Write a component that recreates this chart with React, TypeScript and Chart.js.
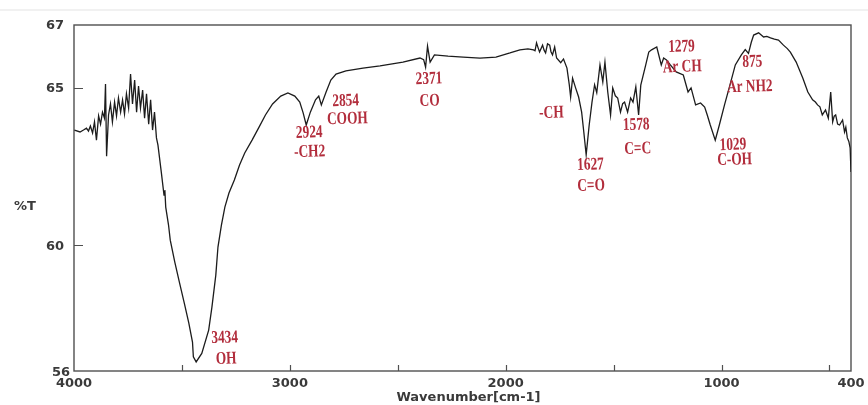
import { useEffect, useRef } from "react";
import { Chart, registerables } from "chart.js";

Chart.register(...registerables);

// FTIR spectrum: wavenumber (cm-1) and transmittance (%T)
const wavenumber = [
  3998, 3972, 3956, 3942, 3933, 3924, 3914, 3905, 3896, 3886, 3877, 3868, 3859, 3854, 3849,
  3840, 3831, 3822, 3812, 3803, 3794, 3784, 3775, 3766, 3757, 3747, 3738, 3729, 3719, 3710,
  3701, 3692, 3682, 3673, 3664, 3654, 3645, 3636, 3627, 3618, 3611, 3595, 3583, 3579, 3575,
  3562, 3554, 3533, 3511, 3489, 3468, 3451, 3447, 3434, 3408, 3376, 3361, 3343, 3333, 3317,
  3301, 3282, 3257, 3233, 3209, 3175, 3142, 3113, 3080, 3042, 3009, 2977, 2954, 2938, 2924,
  2905, 2881, 2866, 2854, 2832, 2810, 2786, 2740, 2661, 2582, 2476, 2397, 2380, 2371, 2362,
  2350, 2330, 2267, 2197, 2119, 2045, 1980, 1934, 1897, 1871, 1864, 1857, 1850, 1843, 1829,
  1822, 1815, 1806, 1796, 1790, 1783, 1773, 1764, 1745, 1732, 1716, 1705, 1699, 1690, 1676,
  1662, 1648, 1638, 1627, 1613, 1600, 1588, 1578, 1563, 1550, 1540, 1527, 1514, 1504, 1492,
  1481, 1468, 1458, 1449, 1435, 1421, 1410, 1397, 1384, 1374, 1351, 1337, 1324, 1300, 1279,
  1268, 1255, 1237, 1210, 1177, 1155, 1141, 1120, 1097, 1078, 1066, 1052, 1029, 1010, 986,
  961, 936, 908, 890, 875, 862, 851, 828, 805, 790, 773, 755, 736, 713, 695,
  681, 654, 623, 600, 578, 565, 555, 544, 533, 518, 505, 494, 485, 478, 471,
  462, 453, 439, 430, 424, 417, 410, 404, 400,
];

const transmittance = [
  63.66, 63.6, 63.66, 63.72, 63.63, 63.79, 63.57, 63.92, 63.34, 64.11, 63.85, 64.23, 64.04, 65.12, 62.83,
  64.14, 64.49, 63.92, 64.55, 64.11, 64.68, 64.23, 64.62, 64.17, 64.81, 64.36, 65.44, 64.49, 65.25, 64.23,
  65.06, 64.36, 64.93, 64.04, 64.81, 63.85, 64.62, 63.66, 64.23, 63.41, 63.18, 62.29, 61.59, 61.75, 61.21,
  60.64, 60.16, 59.46, 58.8, 58.16, 57.52, 56.92, 56.45, 56.29, 56.56, 57.3, 58.03, 59.05, 59.94, 60.64,
  61.21, 61.66, 62.07, 62.55, 62.93, 63.34, 63.76, 64.14, 64.49, 64.74, 64.84, 64.74, 64.55, 64.2, 63.82,
  64.23, 64.62, 64.74, 64.46, 64.87, 65.25, 65.44, 65.54, 65.63, 65.7, 65.82, 65.95, 65.9, 65.66, 66.33,
  65.82, 66.05, 66.01, 65.98, 65.95, 65.98, 66.11, 66.21, 66.24, 66.21, 66.18, 66.43, 66.28, 66.14, 66.36,
  66.2, 66.11, 66.4, 66.36, 66.15, 66.05, 66.3, 65.95, 65.8, 65.92, 65.63, 65.09, 64.71, 65.31, 65.0,
  64.71, 64.23, 63.6, 62.87, 63.82, 64.55, 65.1, 64.85, 65.73, 65.19, 65.82, 64.87, 64.14, 65.0, 64.75,
  64.68, 64.23, 64.5, 64.55, 64.23, 64.68, 64.55, 65.03, 64.14, 65.09, 65.73, 66.14, 66.21, 66.3, 65.73,
  65.95, 65.89, 65.73, 65.51, 65.41, 64.87, 65.0, 64.46, 64.52, 64.39, 64.14, 63.82, 63.34, 63.82, 64.46,
  65.09, 65.73, 66.05, 66.22, 66.1, 66.45, 66.68, 66.75, 66.62, 66.64, 66.59, 66.55, 66.52, 66.36, 66.25,
  66.14, 65.82, 65.31, 64.87, 64.62, 64.55, 64.46, 64.4, 64.14, 64.3, 64.04, 64.87, 63.92, 64.1, 64.14,
  63.85, 63.82, 63.98, 63.6, 63.75, 63.41, 63.3, 63.09, 62.33,
];

const xTickLabels = [4000, 3000, 2000, 1000, 400];
const yTickLabels = [67, 65, 60, 56];

// peak assignments: text and where it sits (cm-1, %T)
const peakText = [
  "3434", "OH", "2924", "-CH2", "2854", "COOH", "2371", "CO", "-CH", "1627",
  "C=O", "1578", "C=C", "1279", "Ar CH", "875", "Ar NH2", "1029", "C-OH",
];
const peakTextWn = [
  3302, 3295, 2910, 2908, 2741, 2733, 2355, 2352, 1788, 1607,
  1604, 1395, 1388, 1185, 1182, 857, 869, 947, 939,
];
const peakTextT = [
  57.05, 56.38, 63.57, 62.96, 64.58, 64.01, 65.28, 64.58, 64.2, 62.55,
  61.88, 63.82, 63.06, 66.3, 65.66, 65.82, 65.03, 63.18, 62.71,
];

const AXIS_FONT = 'bold 13px "DejaVu Sans"';
const AXIS_COLOR = "#3a3a3a";

const framePlugin = {
  id: "spectrumFrame",
  beforeDatasetsDraw(chart: any) {
    const { ctx, chartArea: a, scales } = chart;
    const x = scales.x;
    const y = scales.y;
    ctx.save();
    // faint rule above the plot
    ctx.strokeStyle = "#ececec";
    ctx.lineWidth = 1.5;
    ctx.beginPath();
    ctx.moveTo(0, 10);
    ctx.lineTo(chart.width, 10);
    ctx.stroke();

    ctx.strokeStyle = "#505050";
    ctx.lineWidth = 1.4;
    ctx.strokeRect(a.left, a.top, a.right - a.left, a.bottom - a.top);

    // inward tick marks
    ctx.lineWidth = 1.2;
    ctx.beginPath();
    for (let v = 3500; v >= 500; v -= 500) {
      const px = Math.round(x.getPixelForValue(v)) + 0.5;
      ctx.moveTo(px, a.bottom);
      ctx.lineTo(px, a.bottom - 6);
    }
    for (const v of [60, 65]) {
      const py = Math.round(y.getPixelForValue(v)) + 0.5;
      ctx.moveTo(a.left, py);
      ctx.lineTo(a.left + 9, py);
    }
    ctx.stroke();

    // tick labels
    ctx.fillStyle = AXIS_COLOR;
    ctx.font = AXIS_FONT;
    ctx.textBaseline = "middle";
    ctx.textAlign = "center";
    for (const v of xTickLabels) {
      ctx.fillText(String(v), x.getPixelForValue(v), a.bottom + 13);
    }
    ctx.textAlign = "right";
    for (const v of yTickLabels) {
      if (v === 56) {
        ctx.fillText(String(v), a.left - 4, a.bottom + 2);
      } else {
        ctx.fillText(String(v), a.left - 10, y.getPixelForValue(v) + 1);
      }
    }
    ctx.textAlign = "left";
    ctx.fillText("%T", 14, (a.top + a.bottom) / 2 + 9);
    ctx.textAlign = "center";
    ctx.fillText("Wavenumber[cm-1]", (a.left + a.right) / 2 + 6, a.bottom + 27);
    ctx.restore();
  },
  afterDatasetsDraw(chart: any) {
    const { ctx, scales } = chart;
    const x = scales.x;
    const y = scales.y;
    ctx.save();
    ctx.fillStyle = "#b22d3c";
    ctx.font = 'bold 18px "Liberation Serif"';
    ctx.textAlign = "center";
    ctx.textBaseline = "middle";
    peakText.forEach((t, i) => {
      const px = x.getPixelForValue(peakTextWn[i]);
      const py = y.getPixelForValue(peakTextT[i]);
      ctx.save();
      ctx.translate(px, py);
      ctx.rotate(-0.03);
      ctx.scale(0.74, 1);
      ctx.fillText(t, 0, 0);
      ctx.restore();
    });
    ctx.restore();
  },
};

export default function App() {
  const ref = useRef<HTMLCanvasElement>(null);

  useEffect(() => {
    if (!ref.current) return;
    const chart = new Chart(ref.current, {
      type: "line",
      data: {
        datasets: [
          {
            data: wavenumber.map((w, i) => ({ x: w, y: transmittance[i] })),
            borderColor: "#1c1c1c",
            borderWidth: 1.3,
            pointRadius: 0,
            tension: 0,
            fill: false,
          },
        ],
      },
      options: {
        responsive: false,
        animation: false,
        devicePixelRatio: 1,
        layout: { padding: { left: 74, right: 17, top: 25, bottom: 34 } },
        scales: {
          x: { type: "linear", min: 400, max: 4000, reverse: true, display: false },
          y: { type: "linear", min: 56, max: 67, display: false },
        },
        plugins: {
          legend: { display: false },
          tooltip: { enabled: false },
        },
      },
      plugins: [framePlugin],
    });
    return () => chart.destroy();
  }, []);

  return (
    <div style={{ position: "fixed", left: 0, top: 0, width: 868, height: 405, background: "#fff" }}>
      <canvas ref={ref} width={868} height={405} style={{ display: "block" }} />
    </div>
  );
}
